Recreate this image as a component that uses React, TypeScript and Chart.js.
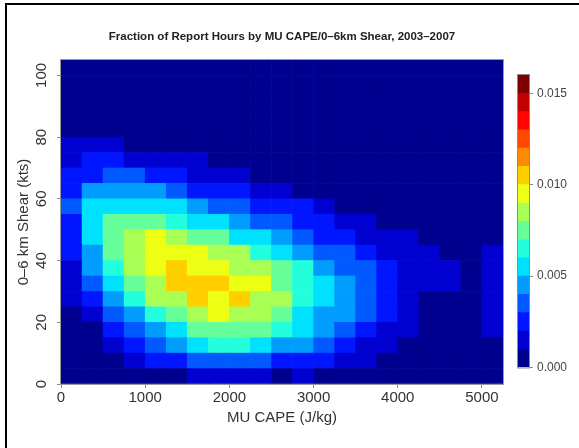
import React, { useEffect, useRef } from 'react';
import { Chart, registerables } from 'chart.js';

Chart.register(...registerables);

// ---- bins (lower edges) ----
const capeBinStarts = [0, 250, 500, 750, 1000, 1250, 1500, 1750, 2000, 2250, 2500, 2750, 3000, 3250, 3500, 3750, 4000, 4250, 4500, 4750, 5000];
const capeBinWidth = 250;
const shearBinStarts = [0, 5, 10, 15, 20, 25, 30, 35, 40, 45, 50, 55, 60, 65, 70, 75, 80, 85, 90, 95, 100];
const shearBinWidth = 5;

const xTickLabels = [0, 1000, 2000, 3000, 4000, 5000];
const yTickLabels = [0, 20, 40, 60, 80, 100];
const colorbarTicks = [0, 0.005, 0.01, 0.015];
const colorbarStep = 0.001;

const colorLevels = [
  '#00008F', '#0000D1', '#0016FF', '#005AFF', '#009DFF', '#00E0FF', '#23FFDC', '#66FF99',
  '#AAFF55', '#EDFF12', '#FFCF00', '#FF8C00', '#FF4900', '#FF0500', '#C20000', '#7F0000',
];

// ---- fraction of report hours, per mille (x 0.001), one array per shear bin, columns = CAPE bins ----
const shear000 = [0.2, 0.2, 0.2, 0.2, 0.2, 0.2, 1.5, 1.5, 1.5, 1.5, 0.2, 1.5, 0.2, 0.2, 0.2, 0.2, 0.2, 0.2, 0.2, 0.2, 0.2];
const shear005 = [0.2, 0.2, 0.2, 1.5, 2.5, 2.5, 3.5, 3.5, 3.5, 3.5, 2.5, 2.5, 2.5, 1.5, 1.5, 0.2, 0.2, 0.2, 0.2, 0.2, 0.2];
const shear010 = [0.2, 0.2, 1.5, 2.5, 3.5, 4.5, 5.5, 6.5, 6.5, 5.5, 4.5, 4.5, 3.5, 2.5, 1.5, 1.5, 0.2, 0.2, 0.2, 0.2, 0.2];
const shear015 = [0.2, 0.2, 2.5, 3.5, 4.5, 5.5, 7.5, 7.5, 7.5, 7.5, 6.5, 5.5, 4.5, 3.5, 2.5, 1.5, 1.5, 0.2, 0.2, 0.2, 1.5];
const shear020 = [0.2, 1.5, 3.5, 4.5, 6.5, 7.5, 8.5, 9.5, 8.5, 8.5, 7.5, 5.5, 4.5, 4.5, 3.5, 2.5, 1.5, 0.2, 0.2, 0.2, 1.5];
const shear025 = [1.5, 2.5, 4.5, 6.5, 8.5, 8.5, 10.5, 9.5, 10.5, 8.5, 8.5, 6.5, 5.5, 4.5, 3.5, 2.5, 1.5, 0.2, 0.2, 0.2, 1.5];
const shear030 = [1.5, 3.5, 5.5, 7.5, 8.5, 10.5, 10.5, 10.5, 9.5, 9.5, 7.5, 6.5, 5.5, 4.5, 3.5, 2.5, 1.5, 1.5, 1.5, 0.2, 1.5];
const shear035 = [1.5, 4.5, 6.5, 8.5, 9.5, 10.5, 9.5, 9.5, 8.5, 8.5, 7.5, 6.5, 4.5, 3.5, 3.5, 2.5, 1.5, 1.5, 1.5, 0.2, 1.5];
const shear040 = [2.5, 4.5, 7.5, 8.5, 9.5, 9.5, 9.5, 8.5, 8.5, 6.5, 5.5, 4.5, 3.5, 3.5, 2.5, 1.5, 1.5, 1.5, 0.2, 0.2, 1.5];
const shear045 = [2.5, 5.5, 7.5, 8.5, 9.5, 8.5, 7.5, 7.5, 5.5, 5.5, 4.5, 3.5, 2.5, 2.5, 1.5, 1.5, 1.5, 0.2, 0.2, 0.2, 0.2];
const shear050 = [2.5, 5.5, 7.5, 7.5, 7.5, 6.5, 5.5, 5.5, 4.5, 3.5, 3.5, 2.5, 2.5, 1.5, 1.5, 0.2, 0.2, 0.2, 0.2, 0.2, 0.2];
const shear055 = [3.5, 5.5, 5.5, 5.5, 5.5, 5.5, 4.5, 3.5, 3.5, 2.5, 2.5, 2.5, 1.5, 0.2, 0.2, 0.2, 0.2, 0.2, 0.2, 0.2, 0.2];
const shear060 = [2.5, 4.5, 4.5, 4.5, 4.5, 3.5, 2.5, 2.5, 2.5, 1.5, 1.5, 0.2, 0.2, 0.2, 0.2, 0.2, 0.2, 0.2, 0.2, 0.2, 0.2];
const shear065 = [2.5, 2.5, 3.5, 3.5, 2.5, 2.5, 1.5, 1.5, 1.5, 0.2, 0.2, 0.2, 0.2, 0.2, 0.2, 0.2, 0.2, 0.2, 0.2, 0.2, 0.2];
const shear070 = [1.5, 2.5, 2.5, 1.5, 1.5, 1.5, 1.5, 0.2, 0.2, 0.2, 0.2, 0.2, 0.2, 0.2, 0.2, 0.2, 0.2, 0.2, 0.2, 0.2, 0.2];
const shear075 = [1.5, 1.5, 1.5, 0.2, 0.2, 0.2, 0.2, 0.2, 0.2, 0.2, 0.2, 0.2, 0.2, 0.2, 0.2, 0.2, 0.2, 0.2, 0.2, 0.2, 0.2];
const shear080 = [0.2, 0.2, 0.2, 0.2, 0.2, 0.2, 0.2, 0.2, 0.2, 0.2, 0.2, 0.2, 0.2, 0.2, 0.2, 0.2, 0.2, 0.2, 0.2, 0.2, 0.2];
const shear085 = [0.2, 0.2, 0.2, 0.2, 0.2, 0.2, 0.2, 0.2, 0.2, 0.2, 0.2, 0.2, 0.2, 0.2, 0.2, 0.2, 0.2, 0.2, 0.2, 0.2, 0.2];
const shear090 = [0.2, 0.2, 0.2, 0.2, 0.2, 0.2, 0.2, 0.2, 0.2, 0.2, 0.2, 0.2, 0.2, 0.2, 0.2, 0.2, 0.2, 0.2, 0.2, 0.2, 0.2];
const shear095 = [0.2, 0.2, 0.2, 0.2, 0.2, 0.2, 0.2, 0.2, 0.2, 0.2, 0.2, 0.2, 0.2, 0.2, 0.2, 0.2, 0.2, 0.2, 0.2, 0.2, 0.2];
const shear100 = [0.2, 0.2, 0.2, 0.2, 0.2, 0.2, 0.2, 0.2, 0.2, 0.2, 0.2, 0.2, 0.2, 0.2, 0.2, 0.2, 0.2, 0.2, 0.2, 0.2, 0.2];

const shearRows = [
  shear000, shear005, shear010, shear015, shear020, shear025, shear030, shear035, shear040, shear045, shear050,
  shear055, shear060, shear065, shear070, shear075, shear080, shear085, shear090, shear095, shear100,
];

const FONT = "'Liberation Sans', Arial, Helvetica, sans-serif";

function levelColor(fraction: number): string {
  const i = Math.max(0, Math.min(colorLevels.length - 1, Math.floor(fraction / colorbarStep + 1e-9)));
  return colorLevels[i];
}

export default function App() {
  const mainRef = useRef<HTMLCanvasElement>(null);
  const barRef = useRef<HTMLCanvasElement>(null);

  useEffect(() => {
    if (!mainRef.current || !barRef.current) return;

    const datasets = shearRows.map((row, r) => ({
      label: String(shearBinStarts[r]),
      data: row.map((_, c) => ({
        x: capeBinStarts[c] + capeBinWidth / 2,
        y: [shearBinStarts[r], shearBinStarts[r] + shearBinWidth],
      })),
      backgroundColor: row.map((pm) => levelColor(pm / 1000)),
      borderWidth: 0,
      grouped: false,
      barPercentage: 1,
      categoryPercentage: 1,
    }));

    const mainPlugin = {
      id: 'frameAndYLabels',
      afterDraw(chart: any) {
        const { ctx, chartArea } = chart;
        const ys = chart.scales.y;
        ctx.save();
        ctx.strokeStyle = '#9a9a9a';
        ctx.lineWidth = 1;
        ctx.strokeRect(chartArea.left - 0.5, chartArea.top - 0.5, chartArea.right - chartArea.left + 1, chartArea.bottom - chartArea.top + 1);
        ctx.fillStyle = '#333';
        ctx.font = `15px ${FONT}`;
        ctx.textAlign = 'center';
        ctx.textBaseline = 'middle';
        for (const v of yTickLabels) {
          const py = ys.getPixelForValue(v);
          ctx.save();
          ctx.translate(42, py);
          ctx.rotate(-Math.PI / 2);
          ctx.fillText(String(v), 0, 0);
          ctx.restore();
        }
        ctx.restore();
      },
    };

    const main = new Chart(mainRef.current, {
      type: 'bar',
      data: { datasets: datasets as any },
      options: {
        responsive: false,
        animation: false,
        events: [],
        layout: { padding: { left: 0, right: 76, top: 0, bottom: 0 } },
        plugins: {
          legend: { display: false },
          tooltip: { enabled: false },
          title: {
            display: true,
            text: 'Fraction of Report Hours by MU CAPE/0\u20136km Shear, 2003\u20132007',
            fullSize: false,
            color: '#222',
            font: { family: FONT, size: 11.5, weight: 'bold' },
            padding: { top: 30, bottom: 16.2 },
          },
        },
        scales: {
          x: {
            type: 'linear',
            min: 0,
            max: 5250,
            offset: false,
            z: 1,
            ticks: {
              stepSize: 250,
              autoSkip: false,
              maxRotation: 0,
              minRotation: 0,
              includeBounds: false,
              color: '#333',
              padding: 1,
              font: { family: FONT, size: 15 },
              callback: (v: any) => (xTickLabels.includes(Number(v)) ? String(v) : ''),
            },
            grid: {
              offset: false,
              color: 'rgba(255,255,255,0.10)',
              tickColor: (ctx: any) => (ctx.tick && xTickLabels.includes(ctx.tick.value) ? '#8a8a8a' : 'rgba(0,0,0,0)'),
              tickLength: 4,
            },
            border: { display: false },
            title: {
              display: true,
              text: 'MU CAPE (J/kg)',
              color: '#333',
              font: { family: FONT, size: 15 },
              padding: { top: 0, bottom: 21 },
            },
            afterFit: (s: any) => {
              s.height = 64;
            },
          },
          y: {
            type: 'linear',
            min: 0,
            max: 105,
            offset: false,
            z: 1,
            ticks: {
              stepSize: 5,
              autoSkip: false,
              color: 'rgba(0,0,0,0)',
              callback: () => '',
            },
            grid: {
              color: 'rgba(255,255,255,0.10)',
              tickColor: (ctx: any) => (ctx.tick && yTickLabels.includes(ctx.tick.value) ? '#8a8a8a' : 'rgba(0,0,0,0)'),
              tickLength: 4,
            },
            border: { display: false },
            title: {
              display: true,
              text: '0\u20136 km Shear (kts)',
              color: '#333',
              font: { family: FONT, size: 15 },
              padding: { top: 15, bottom: 0 },
            },
            afterFit: (s: any) => {
              s.width = 61;
            },
          },
        },
      } as any,
      plugins: [mainPlugin],
    });

    const barPlugin = {
      id: 'cbOutline',
      afterDraw(chart: any) {
        const { ctx, chartArea } = chart;
        ctx.save();
        ctx.strokeStyle = '#8a8a8a';
        ctx.lineWidth = 1;
        ctx.strokeRect(chartArea.left - 0.5, chartArea.top - 0.5, chartArea.right - chartArea.left + 1, chartArea.bottom - chartArea.top + 1);
        ctx.restore();
      },
    };

    const colorbar = new Chart(barRef.current, {
      type: 'bar',
      data: {
        labels: [''],
        datasets: colorLevels.map((c, i) => ({
          label: String(i),
          data: [colorbarStep],
          backgroundColor: c,
          borderWidth: 0,
          barPercentage: 1,
          categoryPercentage: 1,
        })),
      },
      options: {
        responsive: false,
        animation: false,
        events: [],
        layout: { padding: { left: 18, right: 0, top: 75, bottom: 80.5 } },
        plugins: { legend: { display: false }, tooltip: { enabled: false } },
        scales: {
          x: { display: false, stacked: true },
          y: {
            stacked: true,
            position: 'right',
            min: 0,
            max: colorLevels.length * colorbarStep,
            afterBuildTicks: (s: any) => {
              s.ticks = colorbarTicks.map((v) => ({ value: v }));
            },
            ticks: {
              color: '#444',
              padding: 4,
              font: { family: FONT, size: 12 },
              callback: (v: any) => Number(v).toFixed(3),
            },
            grid: { drawOnChartArea: false, tickLength: 4, tickColor: '#8a8a8a' },
            border: { display: false },
            afterFit: (s: any) => {
              s.width = 50;
            },
          },
        },
      } as any,
      plugins: [barPlugin],
    });

    return () => {
      main.destroy();
      colorbar.destroy();
    };
  }, []);

  return (
    <div style={{ position: 'absolute', left: 0, top: 0, width: 579, height: 448, background: '#fff', overflow: 'hidden' }}>
      <canvas ref={mainRef} width={579} height={448} style={{ position: 'absolute', left: 0, top: 0, width: 579, height: 448 }} />
      <canvas ref={barRef} width={79} height={448} style={{ position: 'absolute', left: 500, top: 0, width: 79, height: 448 }} />
      <div style={{ position: 'absolute', left: 5, top: 3, width: 574, height: 2, background: '#000' }} />
      <div style={{ position: 'absolute', left: 5, top: 3, width: 2, height: 445, background: '#000' }} />
    </div>
  );
}
